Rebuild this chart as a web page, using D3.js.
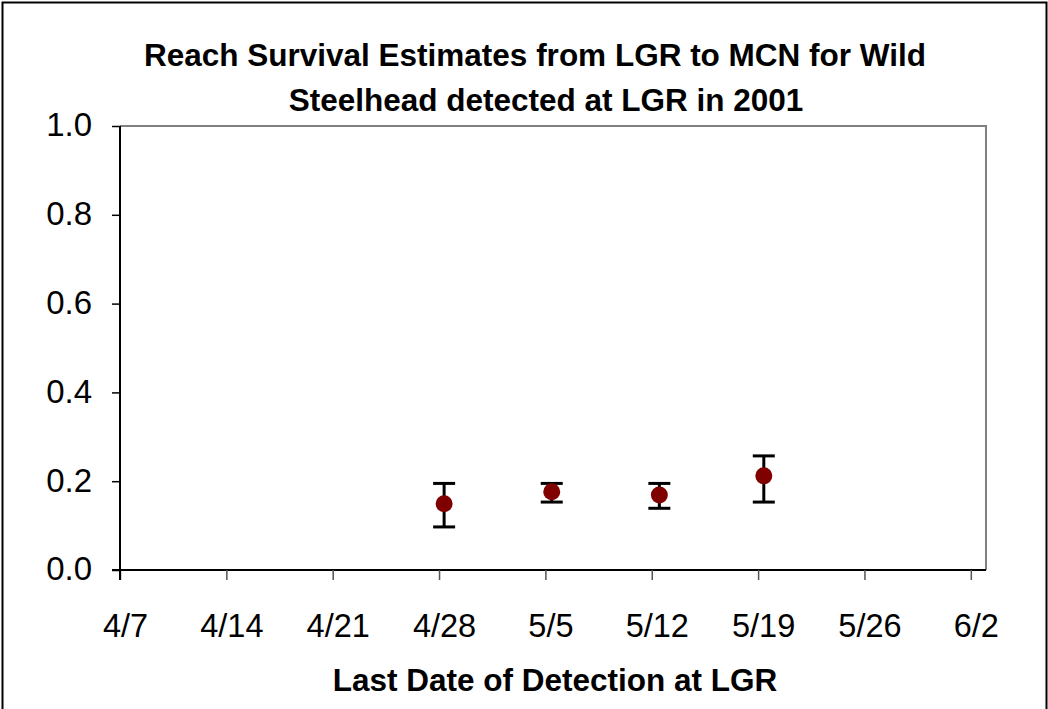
<!DOCTYPE html>
<html>
<head>
<meta charset="utf-8">
<script src="https://cdn.jsdelivr.net/npm/d3@7"></script>
<style>
  body { margin: 0; background: #fff; }
  svg { display: block; font-family: "Liberation Sans", Arial, sans-serif; }
</style>
</head>
<body>
<script>
// values
var dates = ["2001-04-28T08:00", "2001-05-05T10:00", "2001-05-12T12:00", "2001-05-19T09:00"];
var estimate = [0.149, 0.176, 0.169, 0.212];
var upper = [0.195, 0.195, 0.195, 0.257];
var lower = [0.097, 0.153, 0.139, 0.153];
var yTicks = [0, 0.2, 0.4, 0.6, 0.8, 1.0];
var xTickLabels = ["4/7", "4/14", "4/21", "4/28", "5/5", "5/12", "5/19", "5/26", "6/2"];

var width = 1048, height = 709;
var margin = {top: 126, right: 62, bottom: 139, left: 120};

var parse = d3.timeParse("%Y-%m-%dT%H:%M");
var data = dates.map((d, i) => ({date: parse(d), y: estimate[i], hi: upper[i], lo: lower[i]}));

var svg = d3.select("body").append("svg")
    .attr("width", width)
    .attr("height", height);

// outer frame
svg.append("rect")
    .attr("x", 2.5).attr("y", 2.5)
    .attr("width", width - 4).attr("height", height + 20)
    .attr("fill", "none").attr("stroke", "#000").attr("stroke-width", 2);

var xscale = d3.scaleTime()
    .domain([new Date(2001, 3, 7), new Date(2001, 5, 3)])
    .range([margin.left, width - margin.right]);

var yscale = d3.scaleLinear()
    .domain([0, 1])
    .range([height - margin.bottom, margin.top]);

var tickDates = xTickLabels.map(s => {
    var p = s.split("/");
    return new Date(2001, +p[0] - 1, +p[1]);
});

// plot border (top/right gray)
svg.append("path")
    .attr("d", `M${xscale.range()[0]},${yscale(1)}H${xscale.range()[1]}V${yscale(0)}`)
    .attr("fill", "none")
    .attr("stroke", "#808080")
    .attr("stroke-width", 2);

// x-axis
var xAxis = svg.append("g")
    .attr("transform", `translate(0,${yscale(0)})`)
    .call(d3.axisBottom(xscale).tickValues(tickDates).tickFormat((d, i) => xTickLabels[i])
        .tickSize(10).tickPadding(34).tickSizeOuter(0));
xAxis.select(".domain").attr("stroke", "#000").attr("stroke-width", 2)
    .attr("d", `M${xscale.range()[0] - 8},0H${xscale.range()[1]}`);
xAxis.selectAll(".tick line").attr("stroke", "#555").attr("stroke-width", 1.5);
xAxis.selectAll(".tick text")
    .attr("font-size", 32.5)
    .attr("font-family", "Liberation Sans, Arial, sans-serif")
    .attr("fill", "#000")
    .attr("dx", 5);

// y-axis
var yAxis = svg.append("g")
    .attr("transform", `translate(${margin.left},0)`)
    .call(d3.axisLeft(yscale).tickValues(yTicks).tickFormat(d3.format(".1f"))
        .tickSize(8).tickPadding(20).tickSizeOuter(0));
yAxis.select(".domain").attr("stroke", "#000").attr("stroke-width", 2)
    .attr("d", `M0,${yscale(0) + 10}V${yscale(1)}`);
yAxis.selectAll(".tick line").attr("stroke", "#000").attr("stroke-width", 1.5);
yAxis.selectAll(".tick text")
    .attr("font-size", 33)
    .attr("font-family", "Liberation Sans, Arial, sans-serif")
    .attr("fill", "#000")
    .attr("dy", "0.3em");

// error bars
var bars = svg.append("g");
data.forEach(d => {
    var x = xscale(d.date);
    bars.append("line")
        .attr("x1", x).attr("x2", x)
        .attr("y1", yscale(d.hi)).attr("y2", yscale(d.lo))
        .attr("stroke", "#000").attr("stroke-width", 3);
    [d.hi, d.lo].forEach(v => {
        bars.append("line")
            .attr("x1", x - 11).attr("x2", x + 11)
            .attr("y1", yscale(v)).attr("y2", yscale(v))
            .attr("stroke", "#000").attr("stroke-width", 3);
    });
});

// points
svg.append("g").selectAll("circle")
    .data(data)
    .join("circle")
    .attr("cx", d => xscale(d.date))
    .attr("cy", d => yscale(d.y))
    .attr("r", 8.5)
    .attr("fill", "#800000");

// title
var title = svg.append("text")
    .attr("text-anchor", "middle")
    .attr("font-weight", "bold")
    .attr("font-size", 31.5)
    .attr("fill", "#000");
title.append("tspan").attr("x", 535).attr("y", 66)
    .text("Reach Survival Estimates from LGR to MCN for Wild");
title.append("tspan").attr("x", 546).attr("y", 111)
    .text("Steelhead detected at LGR in 2001");

// x axis title
svg.append("text")
    .attr("x", 555).attr("y", 691)
    .attr("text-anchor", "middle")
    .attr("font-weight", "bold")
    .attr("font-size", 31.5)
    .attr("fill", "#000")
    .text("Last Date of Detection at LGR");
</script>
</body>
</html>
